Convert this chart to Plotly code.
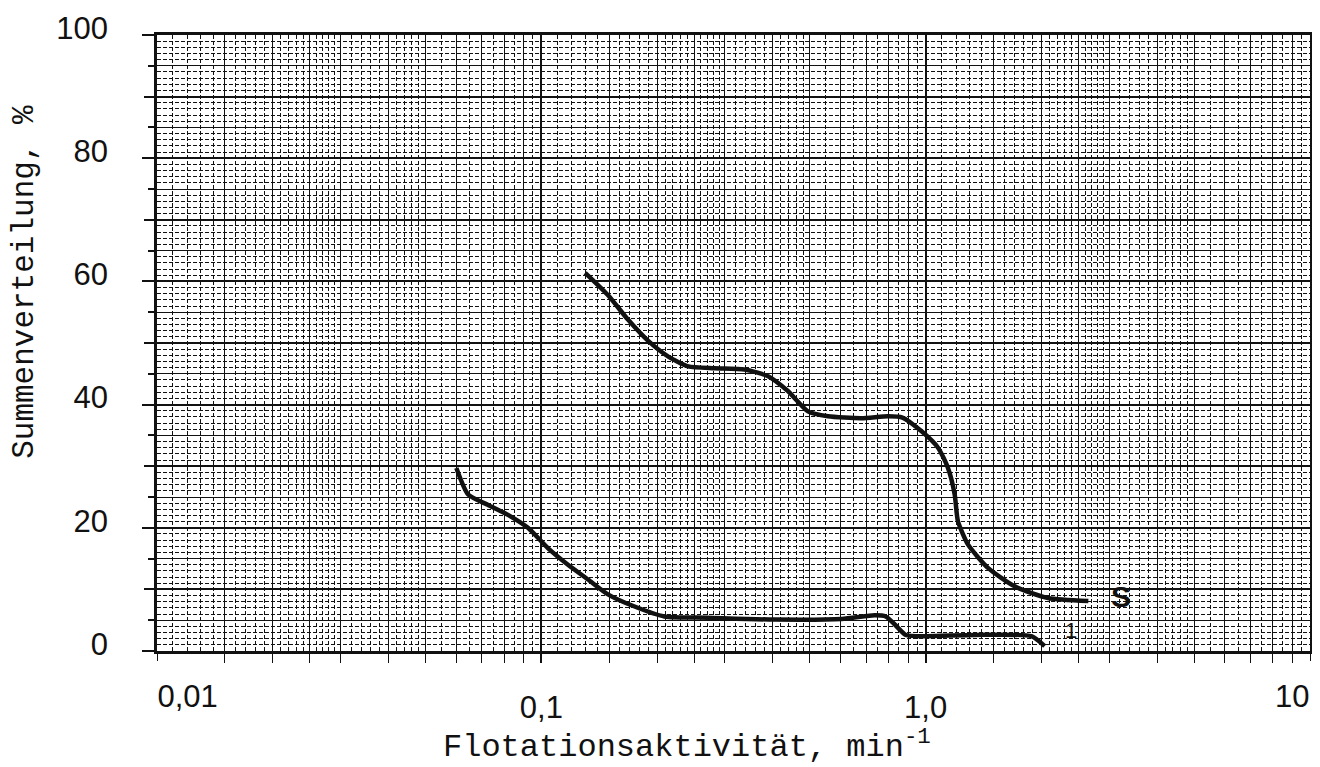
import math
import plotly.graph_objects as go

# ---- data ----
s_x = [0.130, 0.149, 0.168, 0.190, 0.214, 0.241, 0.282, 0.338, 0.389, 0.438, 0.494, 0.557,
       0.680, 0.798, 0.870, 0.974, 1.077, 1.143, 1.19, 1.213, 1.288, 1.452, 1.705, 2.082, 2.65]
s_y = [61.4, 57.8, 53.8, 50.3, 47.8, 46.2, 45.9, 45.7, 44.6, 42.2, 38.9, 38.1,
       37.8, 38.1, 37.9, 35.7, 33.0, 29.7, 25.4, 21.1, 17.3, 13.5, 10.5, 8.6, 8.1]

c1_x = [0.0601, 0.0645, 0.0727, 0.0819, 0.0923, 0.104, 0.1173, 0.1323, 0.149, 0.1735,
        0.209, 0.271, 0.403, 0.604, 0.737, 0.787, 0.831, 0.888, 0.995, 1.341, 1.884, 2.04]
c1_y = [29.7, 25.4, 23.7, 22.1, 20.0, 16.7, 14.0, 11.6, 9.2, 7.3,
        5.6, 5.4, 5.1, 5.2, 5.8, 5.6, 4.3, 2.6, 2.4, 2.6, 2.4, 0.8]

label_S = ("S", 3.22, 8.9)
label_1 = ("1", 2.39, 3.4)

x_ticks = [0.1, 1.0]
x_ticktext = ["0,1", "1,0"]
x_first = ([0.01], ["0,01"])
x_last = ([10], ["10"])
y_labels = [0, 20, 40, 60, 80, 100]
y_ticktext = [str(v) for v in y_labels]
y_unlabelled = [10, 30, 50, 70, 90]

x_title = "Flotationsaktivität, min<sup>-1</sup>"
y_title = "Summenverteilung, %"

# ---- graph-paper grid positions ----
decades = [0.01, 0.1, 1.0]
medium_mult = [1.5, 2, 2.5, 3, 4, 5, 6, 7, 8, 9]
fine_mult = [1.1, 1.2, 1.3, 1.4, 1.6, 1.7, 1.8, 1.9, 2.1, 2.2, 2.3, 2.4, 2.6, 2.7, 2.8, 2.9,
             3.2, 3.4, 3.6, 3.8, 4.2, 4.4, 4.6, 4.8, 5.5, 6.5, 7.5, 8.5, 9.5]
x_medium = [d * m for d in decades for m in medium_mult]
x_fine = [d * m for d in decades for m in fine_mult]
y_medium = list(range(5, 100, 10))
y_fine = [v for v in range(1, 100) if v % 5 != 0]

INK = "#111111"
tick_font = dict(family="Liberation Sans", size=31, color=INK)
title_font = dict(family="Liberation Mono", size=32, color=INK)
FINE_DASH = "4px,2px"

fig = go.Figure()
fig.add_trace(go.Scatter(x=c1_x, y=c1_y, mode="lines",
                         line=dict(color=INK, width=4.5, shape="spline", smoothing=0.6),
                         xaxis="x", yaxis="y", hoverinfo="skip", showlegend=False))
fig.add_trace(go.Scatter(x=s_x, y=s_y, mode="lines",
                         line=dict(color=INK, width=4.5, shape="spline", smoothing=0.6),
                         xaxis="x", yaxis="y", hoverinfo="skip", showlegend=False))
# placeholder traces so the helper axes are drawn
for xa, ya in [("x2", "y"), ("x3", "y"), ("x4", "y2"), ("x", "y3")]:
    fig.add_trace(go.Scatter(x=[None], y=[None], xaxis=xa, yaxis=ya, showlegend=False, hoverinfo="skip"))

xr = [math.log10(0.01), math.log10(10)]
common = dict(automargin=False, zeroline=False)

fig.update_layout(
    width=1320, height=767,
    margin=dict(l=149, r=18, t=27, b=124, autoexpand=False),
    paper_bgcolor="white", plot_bgcolor="white",
    showlegend=False,
    xaxis=dict(type="log", range=xr, tickvals=x_ticks, ticktext=x_ticktext,
               ticks="outside", ticklen=9, tickwidth=1.5, tickcolor=INK,
               tickfont=tick_font, ticklabelstandoff=18,
               showgrid=True, gridcolor=INK, gridwidth=2,
               showline=True, linecolor=INK, linewidth=2.5, mirror=True,
               minor=dict(tickvals=x_medium, ticks="outside", ticklen=9, tickwidth=1.2, tickcolor=INK,
                          showgrid=True, gridcolor=INK, gridwidth=1.4),
               **common),
    xaxis2=dict(type="log", range=xr, overlaying="x", anchor="y", side="bottom",
                tickvals=x_first[0], ticktext=x_first[1], ticks="outside", ticklen=9, tickcolor=INK,
                ticklabelposition="outside right", tickfont=tick_font, ticklabelstandoff=18,
                showgrid=False, showline=False, **common),
    xaxis3=dict(type="log", range=xr, overlaying="x", anchor="y", side="bottom",
                tickvals=x_last[0], ticktext=x_last[1], ticks="outside", ticklen=9, tickcolor=INK,
                ticklabelposition="outside left", tickfont=tick_font, ticklabelstandoff=18,
                showgrid=False, showline=False, **common),
    xaxis4=dict(type="log", range=xr, overlaying="x", anchor="y2", side="bottom",
                tickvals=x_fine, showticklabels=False, ticks="",
                showgrid=True, gridcolor=INK, gridwidth=1.3, griddash=FINE_DASH,
                showline=False, **common),
    yaxis=dict(range=[0, 100], tickvals=y_labels, ticktext=y_ticktext,
               ticks="outside", ticklen=12, tickwidth=1.5, tickcolor=INK,
               tickfont=tick_font, ticklabelstandoff=28, ticklabelshift=-7,
               showgrid=True, gridcolor=INK, gridwidth=2,
               showline=True, linecolor=INK, linewidth=2.5, mirror=True,
               minor=dict(tickvals=y_medium, ticks="outside", ticklen=6, tickcolor=INK,
                          showgrid=True, gridcolor=INK, gridwidth=1.4),
               **common),
    yaxis2=dict(range=[0, 100], overlaying="y", anchor="x4", side="left",
                tickvals=y_fine, showticklabels=False, ticks="",
                showgrid=True, gridcolor=INK, gridwidth=1.3, griddash=FINE_DASH,
                showline=False, **common),
    yaxis3=dict(range=[0, 100], overlaying="y", anchor="x", side="left",
                tickvals=y_unlabelled, showticklabels=False, ticks="outside", ticklen=12,
                tickwidth=1.5, tickcolor=INK,
                showgrid=True, gridcolor=INK, gridwidth=2,
                showline=False, **common),
)

fig.add_annotation(text="<b>" + label_S[0] + "</b>", x=math.log10(label_S[1]), y=label_S[2], xref="x", yref="y",
                   showarrow=False, font=dict(family="Liberation Sans", size=30, color=INK))
fig.add_annotation(text=label_1[0], x=math.log10(label_1[1]), y=label_1[2], xref="x", yref="y",
                   showarrow=False, font=dict(family="Liberation Sans", size=22, color=INK))

fig.add_annotation(text=x_title, xref="paper", yref="paper", x=0.46, y=-0.152,
                   xanchor="center", yanchor="middle", showarrow=False, font=title_font)
fig.add_annotation(text=y_title, xref="paper", yref="paper", x=-0.115, y=0.60,
                   xanchor="center", yanchor="middle", textangle=-90, showarrow=False,
                   font=dict(family="Liberation Mono", size=31, color=INK))

fig.write_html("out.html")
